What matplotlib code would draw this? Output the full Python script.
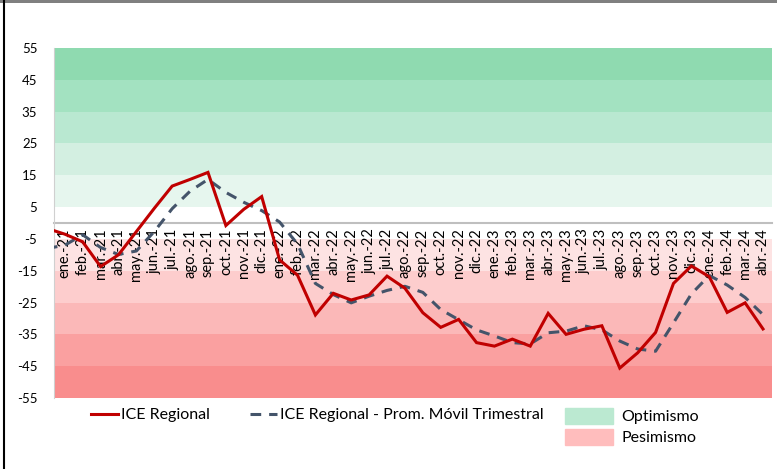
import matplotlib
matplotlib.use("Agg")
import matplotlib.pyplot as plt
from matplotlib.lines import Line2D
from matplotlib.patches import Patch

plt.rcParams['font.family'] = ['Lato', 'DejaVu Sans']
plt.rcParams['axes.unicode_minus'] = False

# months: dic.-20 is only there so the lines run in from the left edge (clipped)
months = ['dic.-20',
          'ene.-21', 'feb.-21', 'mar.-21', 'abr.-21', 'may.-21', 'jun.-21',
          'jul.-21', 'ago.-21', 'sep.-21', 'oct.-21', 'nov.-21', 'dic.-21',
          'ene.-22', 'feb.-22', 'mar.-22', 'abr.-22', 'may.-22', 'jun.-22',
          'jul.-22', 'ago.-22', 'sep.-22', 'oct.-22', 'nov.-22', 'dic.-22',
          'ene.-23', 'feb.-23', 'mar.-23', 'abr.-23', 'may.-23', 'jun.-23',
          'jul.-23', 'ago.-23', 'sep.-23', 'oct.-23', 'nov.-23', 'dic.-23',
          'ene.-24', 'feb.-24', 'mar.-24', 'abr.-24']

ice = [-1.7,
       -3.5, -5.9, -13.7, -10.0, -2.7, 4.6,
       11.6, 13.7, 15.9, -0.8, 4.3, 8.3,
       -11.6, -16.4, -28.9, -22.1, -24.2, -22.6,
       -16.7, -20.5, -28.2, -32.8, -30.3, -37.6,
       -38.7, -36.5, -38.7, -28.4, -35.0, -33.4,
       -32.3, -45.6, -40.8, -34.4, -19.0, -13.5,
       -16.9, -28.1, -25.1, -33.3]

ice_prom = [-8.0,
            -7.0, -3.7, -7.7, -9.9, -8.8, -2.7,
            4.5, 10.0, 13.7, 9.6, 6.5, 3.9,
            0.3, -6.6, -19.0, -22.5, -25.1, -23.0,
            -21.2, -19.9, -21.8, -27.2, -30.4, -33.6,
            -35.5, -37.6, -38.0, -34.5, -34.0, -32.3,
            -33.6, -37.1, -39.6, -40.3, -31.4, -22.3,
            -16.5, -19.5, -23.4, -28.8]

# background bands (lower, upper, colour)
band_lo = [45, 35, 25, 15, 5, -5, -15, -25, -35, -45, -55]
band_hi = [55, 45, 35, 25, 15, 5, -5, -15, -25, -35, -45]
band_col = ['#8FDAB0', '#A3E2C1', '#B9E8D1', '#D3EFE1', '#E6F6EE', '#FFFFFF',
            '#FDE3E3', '#FDCDCD', '#FBB8B8', '#FAA0A0', '#F98D8D']

yticks = list(range(-55, 56, 10))


def main():
    fig = plt.figure(figsize=(7.77, 4.69), dpi=100)
    ax = fig.add_axes([0.0695, 0.1514, 0.924, 0.7463])

    for lo, hi, c in zip(band_lo, band_hi, band_col):
        ax.axhspan(lo, hi, color=c, lw=0, zorder=0)

    x = list(range(-1, len(months) - 1))
    ax.plot(x, ice, color='#C00000', lw=2.2, zorder=3.2, solid_joinstyle='miter')
    ax.plot(x, ice_prom, color='#44546A', lw=2.2, dashes=(3.5, 2.6), zorder=3)

    # category axis crosses at zero, like the Excel original
    ax.spines['bottom'].set_position(('data', 0))
    ax.spines['bottom'].set_color('#BFBFBF')
    ax.spines['bottom'].set_linewidth(1.5)
    ax.spines['bottom'].set_zorder(1)
    ax.spines['left'].set_color('#D0D0D0')
    ax.spines['left'].set_linewidth(0.8)
    ax.spines['top'].set_visible(False)
    ax.spines['right'].set_visible(False)

    ax.set_xlim(-0.6, len(months) - 1.5)
    ax.set_ylim(-55, 55)
    ax.set_yticks(yticks)
    ax.set_xticks(x[1:])
    ax.set_xticklabels(months[1:], fontsize=10.5)
    ax.tick_params(axis='x', length=0, pad=4, labelrotation=90)
    ax.tick_params(axis='y', length=0, pad=12, labelsize=9.5)

    h1 = [Line2D([], [], color='#C00000', lw=2.2),
          Line2D([], [], color='#44546A', lw=2.2, dashes=(3.5, 2.6))]
    fig.legend(h1, ['ICE Regional', 'ICE Regional - Prom. Móvil Trimestral'],
               loc='center left', bbox_to_anchor=(0.098, 0.115), ncol=2,
               frameon=False, fontsize=11.5, handlelength=1.7, handletextpad=0.2,
               columnspacing=2.5)
    h2 = [Patch(color='#BBE9D1'), Patch(color='#FFBDBD')]
    fig.legend(h2, ['Optimismo', 'Pesimismo'],
               loc='center left', bbox_to_anchor=(0.709, 0.09), ncol=1,
               frameon=False, fontsize=11.5, handlelength=3.0, handleheight=1.1,
               handletextpad=0.5, labelspacing=0.3)

    # frame bits of the original screenshot
    fig.add_artist(plt.Rectangle((0, 0.993), 1, 0.007, transform=fig.transFigure,
                                 color='#808080', lw=0))
    fig.add_artist(Line2D([0.005, 0.005], [0, 1], transform=fig.transFigure,
                          color='black', lw=1.5))

    fig.savefig('out.png', dpi=100)


if __name__ == "__main__":
    main()
